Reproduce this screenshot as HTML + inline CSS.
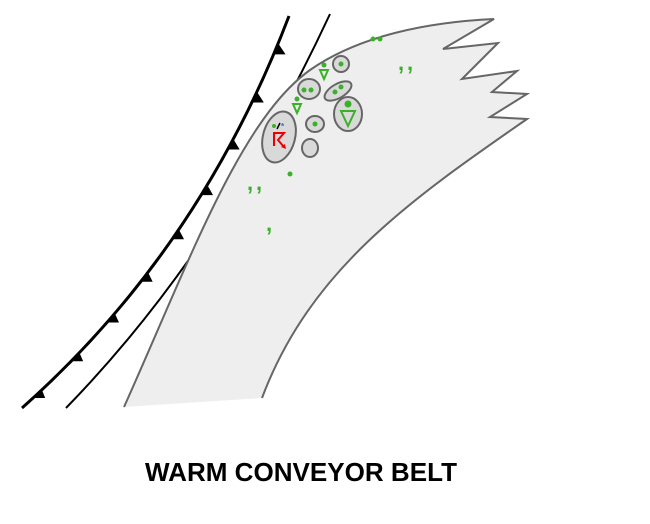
<!DOCTYPE html>
<html><head><meta charset="utf-8"><style>
html,body{margin:0;padding:0;background:#fff;}
svg{display:block;}
</style></head><body>
<svg id="s" width="650" height="524" viewBox="0 0 650 524" xmlns="http://www.w3.org/2000/svg">
<path id="front" d="M22,408 Q200,250 289,16" fill="none" stroke="#000" stroke-width="3"/>
<g id="tri"></g>
<path d="M66,408 Q220,250 330,14" fill="none" stroke="#000" stroke-width="2"/>
<path d="M124,407 C190,260 240,120 310,70 C360,35 430,22 494,19 L443,49 L498,43 L462,79 L517,71 L492,92 L527,94 L490,117 L527,119 C410,200 310,270 262,398 Z" fill="#eeeeee" stroke="none"/>
<path d="M124,407 C190,260 240,120 310,70 C360,35 430,22 494,19 L443,49 L498,43 L462,79 L517,71 L492,92 L527,94 L490,117 L527,119 C410,200 310,270 262,398" fill="none" stroke="#666" stroke-width="2"/>
<g fill="#d9d9d9" stroke="#666" stroke-width="2">
<ellipse cx="279" cy="137" rx="16" ry="26" transform="rotate(15 279 137)"/>
<ellipse cx="310" cy="148" rx="8" ry="9"/>
<ellipse cx="315" cy="124" rx="9" ry="8"/>
<ellipse cx="309" cy="89" rx="11" ry="10"/>
<ellipse cx="341" cy="64" rx="8" ry="8"/>
<ellipse cx="338" cy="91" rx="15" ry="7" transform="rotate(-30 338 91)"/>
<ellipse cx="348" cy="114" rx="14" ry="17"/>
</g>
<g fill="#3bb02a">
<circle cx="304" cy="90" r="2.5"/><circle cx="311" cy="90" r="2.5"/>
<circle cx="341" cy="64" r="2.5"/>
<circle cx="335" cy="92" r="2.5"/><circle cx="341" cy="87" r="2.5"/>
<circle cx="348" cy="104" r="3.5"/>
<circle cx="315" cy="124" r="2.5"/>
<circle cx="324" cy="65" r="2.5"/>
<circle cx="297" cy="99" r="2.5"/>
<circle cx="274" cy="126" r="2"/>
<circle cx="290" cy="174" r="2.5"/>
<circle cx="373" cy="39" r="2.5"/><circle cx="380" cy="39" r="2.5"/>
</g>
<g fill="none" stroke="#3bb02a" stroke-width="2">
<path d="M320,70 L328,70 L324,79 Z"/>
<path d="M293,104 L301,104 L297,113 Z"/>
<path d="M341,111 L355,111 L348,126 Z"/>
</g>
<g fill="#3bb02a" font-family="Liberation Sans, sans-serif" font-weight="bold" font-size="22">
<text x="398" y="70">,</text><text x="407" y="70">,</text>
<text x="247" y="190">,</text><text x="256" y="190">,</text>
<text x="266" y="231">,</text>
</g>
<line x1="277" y1="129" x2="280" y2="123" stroke="#000" stroke-width="1.5"/>
<text x="281" y="129" font-size="8" fill="#2a6ad0" font-family="Liberation Sans, sans-serif" font-weight="bold">*</text>
<path d="M274,146 L274,133 L284,133 L278,140 L284,147" fill="none" stroke="#e00" stroke-width="2"/>
<path d="M281,147 L286,149 L285,144 Z" fill="#e00"/>
<text x="301" y="481" text-anchor="middle" font-family="Liberation Sans, Arial, sans-serif" font-weight="bold" font-size="26" textLength="312" lengthAdjust="spacingAndGlyphs">WARM CONVEYOR BELT</text>
</svg>
<script>
(function(){
var p=document.getElementById('front'),g=document.getElementById('tri'),L=p.getTotalLength();
var h='';
for(var i=0;i<9;i++){
 var s=20+i*(L-30)/8.5;
 var a=p.getPointAtLength(s-5),b=p.getPointAtLength(s+7);
 var cx=a.x+12,cy=a.y;
 h+='<polygon points="'+a.x+','+a.y+' '+b.x+','+b.y+' '+cx+','+cy+'" fill="#000"/>';
}
g.innerHTML=h;
})();
</script>
</body></html>
